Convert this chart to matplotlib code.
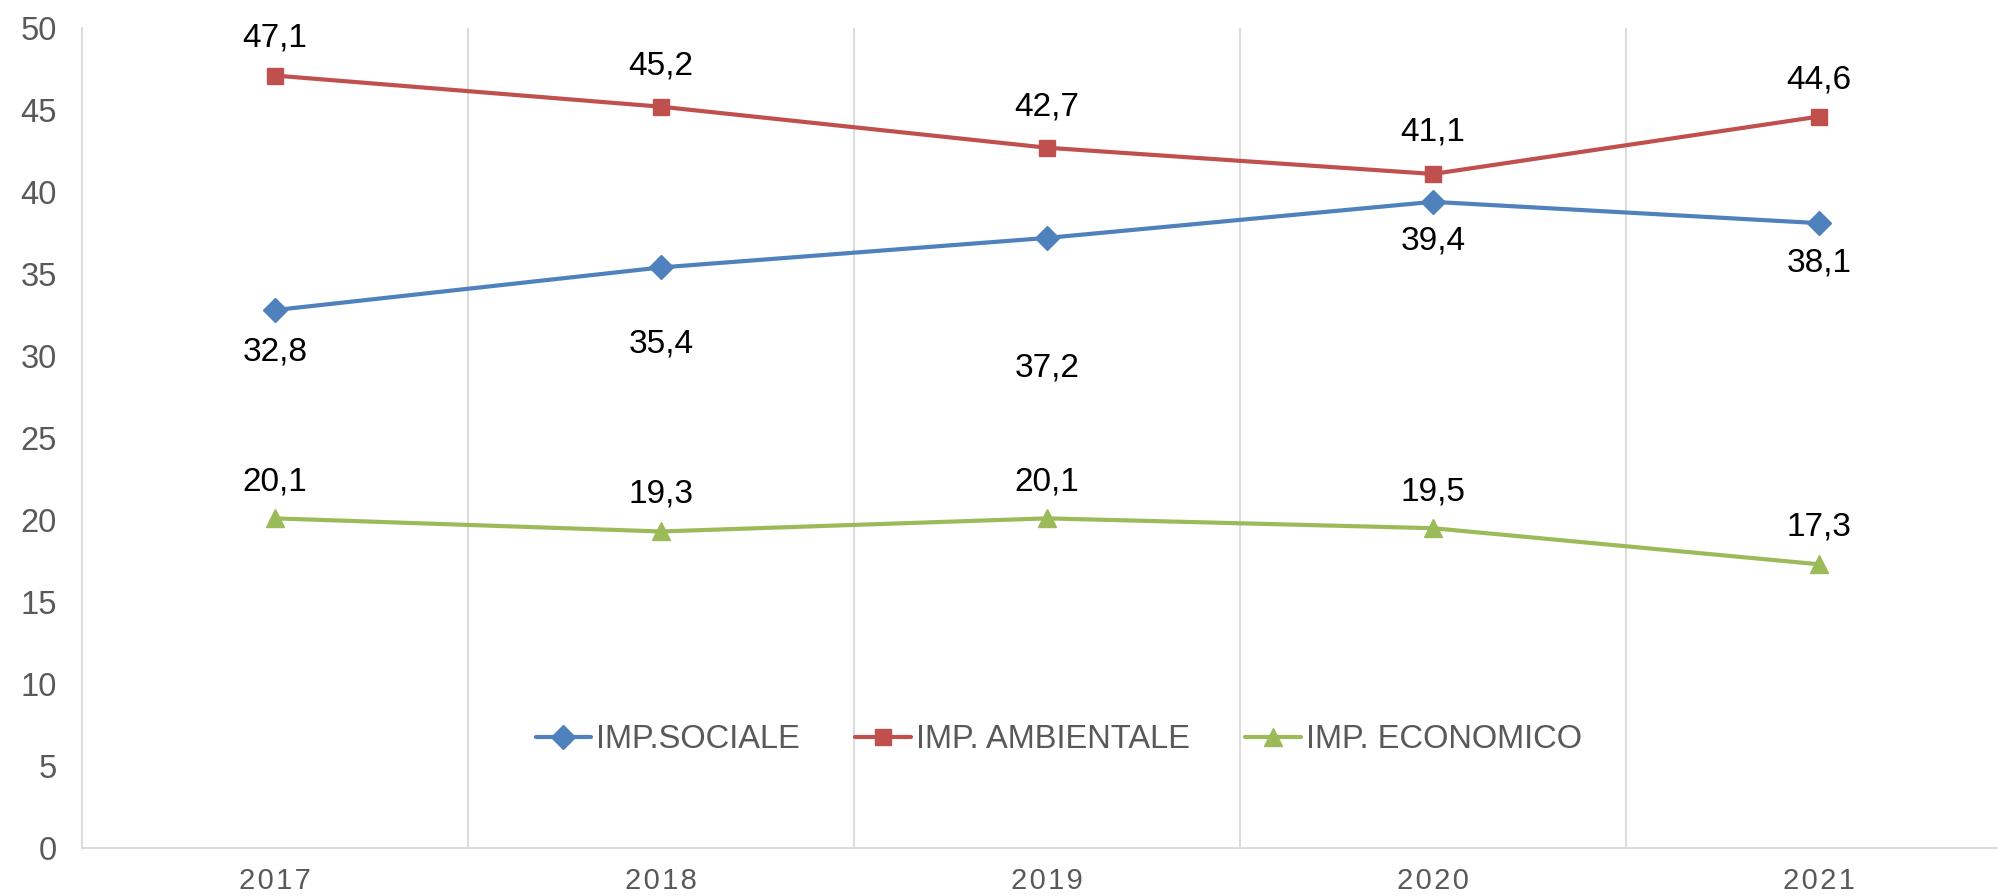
import matplotlib.pyplot as plt
import numpy as np

plt.rcParams['font.family'] = ['Liberation Sans', 'DejaVu Sans']

anni = ['2017', '2018', '2019', '2020', '2021']
sociale = [32.8, 35.4, 37.2, 39.4, 38.1]
ambientale = [47.1, 45.2, 42.7, 41.1, 44.6]
economico = [20.1, 19.3, 20.1, 19.5, 17.3]
nomi = ['IMP.SOCIALE', 'IMP. AMBIENTALE', 'IMP. ECONOMICO']

# spostamento delle etichette in punti (negativo = sotto)
off_sociale = [-30, -55, -94, -28, -29]
off_ambientale = [27, 29, 29, 30, 26]
off_economico = [26, 27, 26, 26, 27]

fig = plt.figure(figsize=(19.99, 8.96), dpi=100)
# il riquadro del grafico esce a destra come nell'originale
ax = fig.add_axes([82 / 1999, 48 / 896, 1930 / 1999, 820 / 896])

x = np.arange(len(anni))
serie = [
    (sociale, off_sociale, '#4F81BD', 'D', 12.5),
    (ambientale, off_ambientale, '#C0504D', 's', 11.5),
    (economico, off_economico, '#9BBB59', '^', 13.5),
]

for (val, off, col, mk, ms), nome in zip(serie, nomi):
    ax.plot(x, val, color=col, marker=mk, markersize=ms, linewidth=3,
            label=nome, solid_capstyle='round')
    for xi, v, o in zip(x, val, off):
        ax.annotate(f'{v:.1f}'.replace('.', ','), (xi, v),
                    xytext=(0, o), textcoords='offset points',
                    ha='center', va='center', fontsize=24, color='black')

ax.set_xlim(-0.5, len(anni) - 0.5)
ax.set_ylim(0, 50)
ax.set_yticks(range(0, 51, 5))
ax.set_xticks(x)
ax.set_xticklabels(['\u200a'.join(a) for a in anni])
ax.set_xticks(np.arange(0.5, len(anni) - 0.5, 1), minor=True)
ax.grid(which='minor', axis='x', color='#D9D9D9', linewidth=1.3)
ax.tick_params(which='both', length=0)
ax.tick_params(axis='y', labelsize=23.5, labelcolor='#595959', pad=18)
ax.tick_params(axis='x', labelsize=21, labelcolor='#595959', pad=14)

for s in ['top', 'right']:
    ax.spines[s].set_visible(False)
for s in ['left', 'bottom']:
    ax.spines[s].set_color('#D9D9D9')
    ax.spines[s].set_linewidth(1.3)

leg = ax.legend(loc='center', bbox_to_anchor=(0.506, 0.132), ncol=3,
                frameon=False, fontsize=23.5, handlelength=1.7,
                columnspacing=1.7, handletextpad=0.15)
for t in leg.get_texts():
    t.set_color('#595959')

fig.savefig('out.png', dpi=100)
